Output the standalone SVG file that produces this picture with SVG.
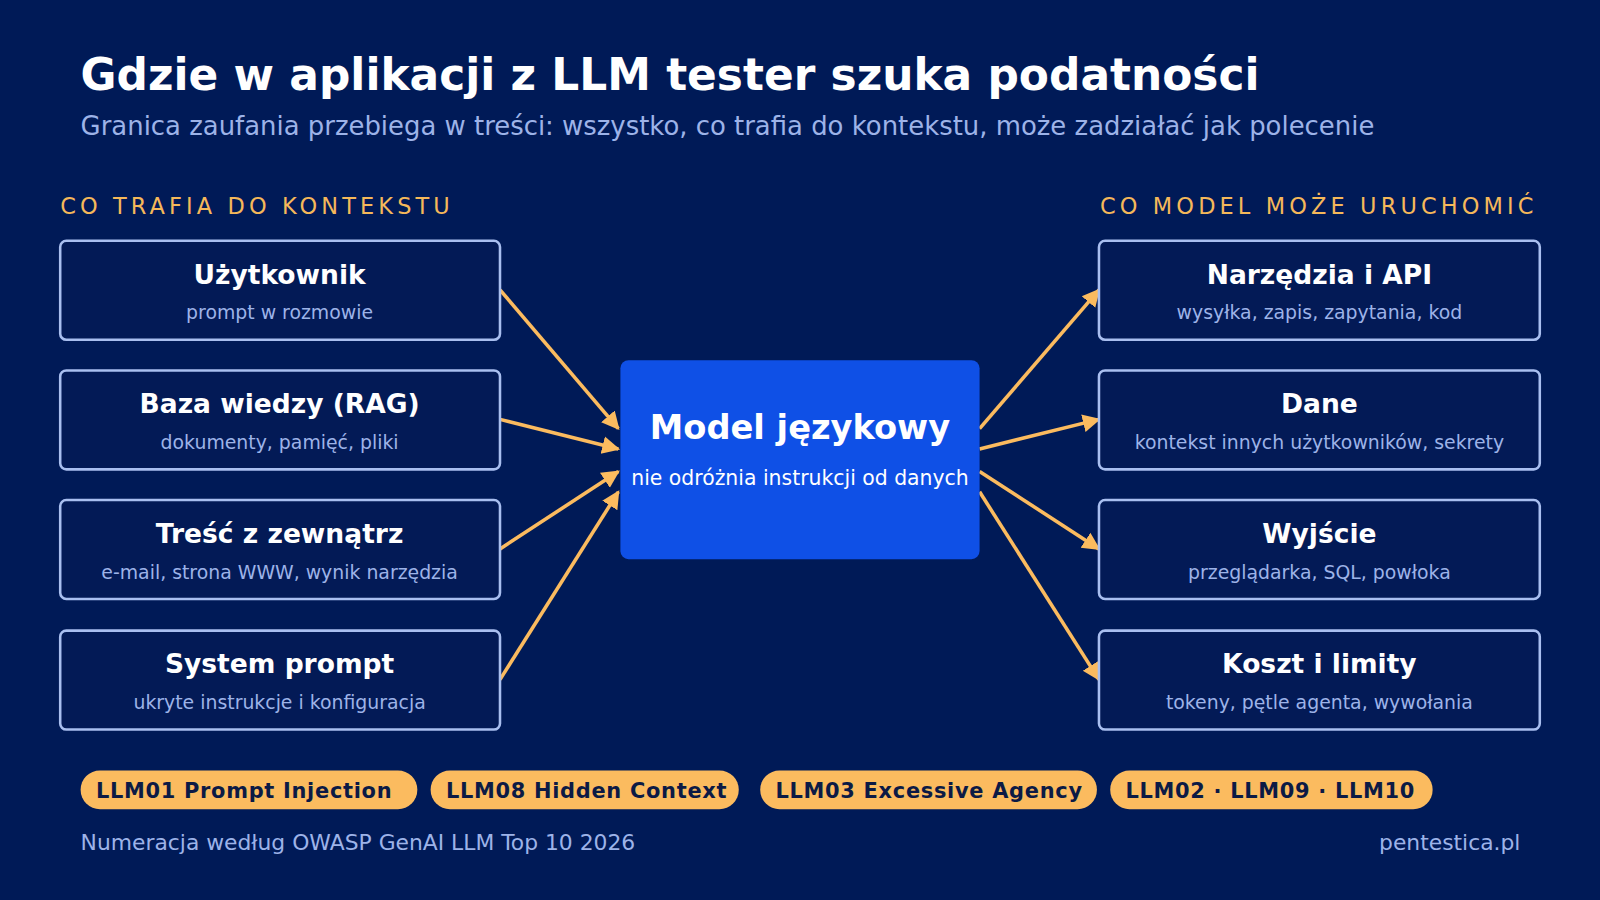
<svg xmlns="http://www.w3.org/2000/svg" width="1600" height="900" viewBox="0 0 1600 900">
<defs>
<style>
text{font-family:"DejaVu Sans","Noto Sans",sans-serif}
.box{fill:#031a56;stroke:#a9bff0;stroke-width:2.5}
.h{fill:#fff;font-weight:bold;font-size:26px;text-anchor:middle}
.s{fill:#9db3e8;font-size:18.5px;text-anchor:middle}
.sec{fill:#f5b85a;font-size:22px;letter-spacing:3.2px}
.pill{fill:#fbbb5f}
.pt{fill:#0c1a45;font-weight:bold;font-size:20.5px;letter-spacing:0.7px}
.c{stroke:#fbbb5f;stroke-width:3.5;fill:none;marker-end:url(#a)}
</style>
<marker id="a" viewBox="0 0 10 10" refX="9" refY="5" markerWidth="5" markerHeight="5.5" orient="auto" markerUnits="strokeWidth"><path d="M0,0L10,5L0,10z" fill="#fbbb5f"/></marker>
</defs>
<rect width="1600" height="900" fill="#001a57"/>
<g transform="scale(1.0204)">
<text x="79" y="88" fill="#fff" font-weight="bold" font-size="43">Gdzie w aplikacji z LLM tester szuka podatności</text>
<text x="79" y="132" fill="#9db3e8" font-size="25.4">Granica zaufania przebiega w treści: wszystko, co trafia do kontekstu, może zadziałać jak polecenie</text>
<text class="sec" x="59" y="210" textLength="385">CO TRAFIA DO KONTEKSTU</text>
<text class="sec" x="1078" y="210" textLength="428">CO MODEL MOŻE URUCHOMIĆ</text>
<g id="connectors">
<path class="c" d="M490,284L606,420"/><path class="c" d="M490,411L606,440"/><path class="c" d="M490,538L606,462"/><path class="c" d="M490,666L606,482"/>
<path class="c" d="M960,420L1077,284"/><path class="c" d="M960,440L1077,411"/><path class="c" d="M960,462L1077,538"/><path class="c" d="M960,482L1077,666"/>
</g>
<g id="n1"><rect class="box" x="59" y="236" width="431" height="97" rx="6"/><text class="h" x="274" y="278">Użytkownik</text><text class="s" x="274" y="313">prompt w rozmowie</text></g>
<g id="n2"><rect class="box" x="59" y="363" width="431" height="97" rx="6"/><text class="h" x="274" y="405">Baza wiedzy (RAG)</text><text class="s" x="274" y="440">dokumenty, pamięć, pliki</text></g>
<g id="n3"><rect class="box" x="59" y="490" width="431" height="97" rx="6"/><text class="h" x="274" y="532">Treść z zewnątrz</text><text class="s" x="274" y="567">e-mail, strona WWW, wynik narzędzia</text></g>
<g id="n4"><rect class="box" x="59" y="618" width="431" height="97" rx="6"/><text class="h" x="274" y="660">System prompt</text><text class="s" x="274" y="695">ukryte instrukcje i konfiguracja</text></g>
<g id="center"><rect x="608" y="353" width="352" height="195" rx="8" fill="#0f50e6"/><text x="784" y="430" fill="#fff" font-weight="bold" font-size="33" text-anchor="middle">Model językowy</text><text x="784" y="475" fill="#fff" font-size="20" text-anchor="middle">nie odróżnia instrukcji od danych</text></g>
<g id="r1"><rect class="box" x="1077" y="236" width="432" height="97" rx="6"/><text class="h" x="1293" y="278">Narzędzia i API</text><text class="s" x="1293" y="313">wysyłka, zapis, zapytania, kod</text></g>
<g id="r2"><rect class="box" x="1077" y="363" width="432" height="97" rx="6"/><text class="h" x="1293" y="405">Dane</text><text class="s" x="1293" y="440">kontekst innych użytkowników, sekrety</text></g>
<g id="r3"><rect class="box" x="1077" y="490" width="432" height="97" rx="6"/><text class="h" x="1293" y="532">Wyjście</text><text class="s" x="1293" y="567">przeglądarka, SQL, powłoka</text></g>
<g id="r4"><rect class="box" x="1077" y="618" width="432" height="97" rx="6"/><text class="h" x="1293" y="660">Koszt i limity</text><text class="s" x="1293" y="695">tokeny, pętle agenta, wywołania</text></g>
<g id="pills">
<rect class="pill" x="79" y="755" width="330" height="38" rx="19"/><text class="pt" x="94" y="782">LLM01 Prompt Injection</text>
<rect class="pill" x="422" y="755" width="302" height="38" rx="19"/><text class="pt" x="437" y="782">LLM08 Hidden Context</text>
<rect class="pill" x="745" y="755" width="330" height="38" rx="19"/><text class="pt" x="760" y="782">LLM03 Excessive Agency</text>
<rect class="pill" x="1088" y="755" width="316" height="38" rx="19"/><text class="pt" x="1103" y="782">LLM02 · LLM09 · LLM10</text>
</g>
<text x="79" y="833" fill="#9db3e8" font-size="21.4">Numeracja według OWASP GenAI LLM Top 10 2026</text>
<text x="1490" y="833" fill="#9db3e8" font-size="21.4" text-anchor="end">pentestica.pl</text>
</g>
</svg>
